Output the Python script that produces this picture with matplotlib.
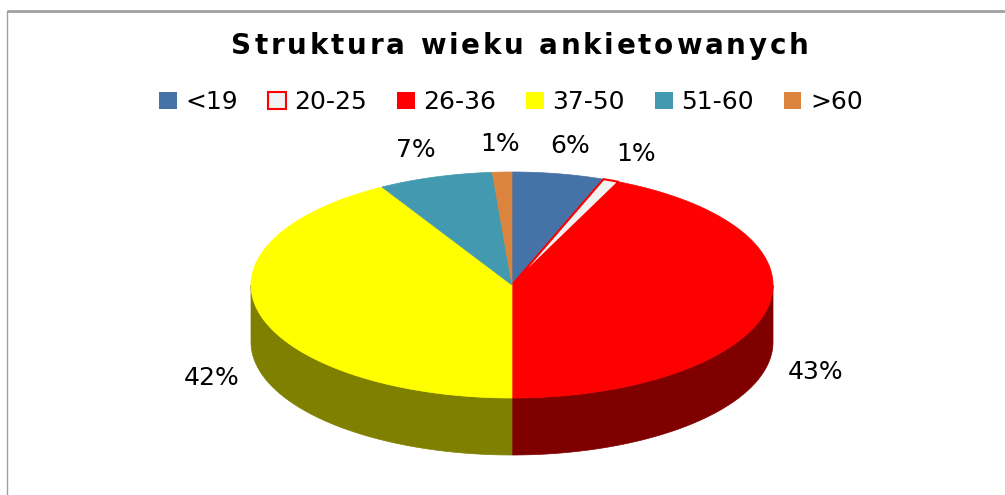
import numpy as np
import matplotlib.pyplot as plt
from matplotlib.patches import Polygon, Patch

# data (share of respondents, %)
groups = ['<19', '20-25', '26-36', '37-50', '51-60', '>60']
shares = [5.7, 1.0, 43.3, 41.7, 7.1, 1.2]
colors = ['#4572A7', '#F2F2F2', '#FF0000', '#FFFF00', '#4399AF', '#DB843D']
edges = ['#4572A7', '#FF0000', '#FF0000', '#FFFF00', '#4399AF', '#DB843D']
title = 'Struktura wieku ankietowanych'

# pie geometry in pixels
cx, cy, rx, ry, depth = 512, 285, 261, 113, 57

fig = plt.figure(figsize=(10.05, 4.95), dpi=100)
ax = fig.add_axes([0, 0, 1, 1])
ax.set_xlim(0, 1005)
ax.set_ylim(495, 0)
ax.axis('off')

# frame
ax.plot([7, 1005], [11, 11], color='#A0A0A0', lw=2, solid_capstyle='butt')
ax.plot([7, 7], [11, 495], color='#A0A0A0', lw=1)


def arc(a0, a1, dy=0, n=200):
    t = np.radians(np.linspace(a0, a1, n))
    return np.column_stack([cx + rx * np.sin(t), cy - ry * np.cos(t) + dy])


bounds = np.concatenate([[0], np.cumsum(shares)]) / sum(shares) * 360

# side walls (front half only)
for i, c in enumerate(colors):
    a0, a1 = max(bounds[i], 90), min(bounds[i + 1], 270)
    if a1 <= a0:
        continue
    dark = tuple(v * 0.5 for v in plt.matplotlib.colors.to_rgb(c))
    pts = np.vstack([arc(a0, a1), arc(a0, a1, depth)[::-1]])
    ax.add_patch(Polygon(pts, closed=True, facecolor=dark, edgecolor=dark, lw=0.5))

# top face
for i, c in enumerate(colors):
    pts = np.vstack([[cx, cy], arc(bounds[i], bounds[i + 1])])
    lw = 1.5 if edges[i] != c else 0.5
    ax.add_patch(Polygon(pts, closed=True, facecolor=c, edgecolor=edges[i], lw=lw, zorder=3))

# percentage labels
for i, s in enumerate(shares):
    mid = np.radians((bounds[i] + bounds[i + 1]) / 2)
    if np.cos(mid) < 0:
        x = cx + rx * 1.19 * np.sin(mid)
        y = cy - ry * 1.25 * np.cos(mid) + depth
    else:
        x = cx + rx * 1.25 * np.sin(mid)
        y = cy - ry * 1.25 * np.cos(mid)
    ax.text(x, y, f'{s:.0f}%', ha='center', va='center', fontsize=18, zorder=5)

# title with extra letter spacing
renderer = fig.canvas.get_renderer()
tracking = 2.8
widths = []
for ch in title:
    t = ax.text(0, 0, ch.replace(' ', '\u00a0'), fontsize=20, fontweight='bold')
    widths.append(t.get_window_extent(renderer).width)
    t.remove()
total = sum(widths) + tracking * (len(title) - 1)
x = 520 - total / 2
for ch, w in zip(title, widths):
    if ch != ' ':
        ax.text(x, 54, ch, ha='left', va='baseline', fontsize=20, fontweight='bold')
    x += w + tracking

handles = [Patch(facecolor=c, edgecolor=e, lw=1.5 if e != c else 0) for c, e in zip(colors, edges)]
ax.legend(handles, groups, ncol=6, loc='center', bbox_to_anchor=(511 / 1005, 1 - 102 / 495),
          fontsize=18, frameon=False, handlelength=0.7, handleheight=0.7,
          handletextpad=0.35, columnspacing=1.2, borderpad=0)

fig.savefig('out.png', dpi=100)
